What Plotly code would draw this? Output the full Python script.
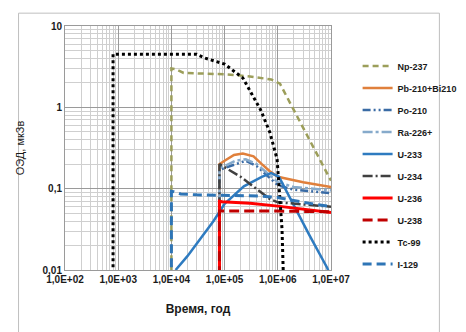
import plotly.graph_objects as go

# ---- data ----
np237_x = [1e4, 1e4, 1.2e4, 1.7e4, 1e5, 3e5, 7.5e5, 1.1e6, 1e7]
np237_y = [0.001, 3.0, 2.95, 2.65, 2.55, 2.4, 2.2, 1.95, 0.125]

pb210_x = [8e4, 8e4, 1e5, 1.5e5, 2.2e5, 3.5e5, 5e5, 7e5, 1e6, 3e6, 1e7]
pb210_y = [0.001, 0.2, 0.22, 0.26, 0.27, 0.25, 0.2, 0.165, 0.14, 0.12, 0.105]

po210_x = [8e4, 8e4, 1e5, 1.6e5, 2.5e5, 4e5, 6e5, 1e6, 2e6, 5e6, 1e7]
po210_y = [0.001, 0.17, 0.18, 0.2, 0.22, 0.19, 0.15, 0.11, 0.097, 0.092, 0.088]

ra226_x = [8e4, 8e4, 1e5, 1.6e5, 2.5e5, 4e5, 6e5, 1e6, 2e6, 5e6, 1e7]
ra226_y = [0.001, 0.18, 0.19, 0.22, 0.23, 0.2, 0.16, 0.12, 0.105, 0.1, 0.095]

u233_x = [1.2e4, 2e4, 3.8e4, 6.2e4, 1e5, 2.3e5, 5e5, 7.5e5, 1.05e6, 2e6, 3.9e6, 8.5e6, 1e7]
u233_y = [0.01, 0.0148, 0.026, 0.04, 0.065, 0.107, 0.14, 0.155, 0.14, 0.061, 0.027, 0.0106, 0.008]

u234_x = [8e4, 8e4, 2e5, 4e5, 7e5, 1e6, 3e6, 1e7]
u234_y = [0.001, 0.2, 0.14, 0.1, 0.075, 0.068, 0.064, 0.06]

u236_x = [8e4, 8e4, 9e4, 3e5, 1e6, 3e6, 1e7]
u236_y = [0.001, 0.07, 0.069, 0.066, 0.061, 0.056, 0.051]

u238_x = [8e4, 8e4, 1e6, 1e7]
u238_y = [0.001, 0.053, 0.053, 0.052]

tc99_x = [800, 800, 3e4, 4.2e4, 1e5, 2.2e5, 3.2e5, 4.8e5, 7.1e5, 9.7e5, 1.2e6, 1.3e6, 1.4e6]
tc99_y = [0.001, 4.5, 4.5, 4.05, 3.4, 2.3, 1.48, 0.92, 0.49, 0.23, 0.032, 0.01, 0.001]

i129_x = [1e4, 1e4, 1.1e4, 1.5e4, 3e4, 1e5, 5e5, 1e6, 3e6, 1e7]
i129_y = [0.001, 0.093, 0.092, 0.086, 0.084, 0.082, 0.081, 0.078, 0.068, 0.06]

x_tickvals = [1e2, 1e3, 1e4, 1e5, 1e6, 1e7]
x_ticktext = ["1,0E+02", "1,0E+03", "1,0E+04", "1,0E+05", "1,0E+06", "1,0E+07"]
y_tickvals = [0.01, 0.1, 1, 10]
y_ticktext = ["0,01", "0,1", "1", "10"]

# minor gridlines at 2..9 of every decade
x_minor = [m * 10 ** e for e in range(2, 7) for m in range(2, 10)]
y_minor = [m * 10 ** e for e in range(-2, 1) for m in range(2, 10)]

series = [
    ("Np-237", np237_x, np237_y, "#9C9E5A", "6px,4px", 2.5),
    ("Pb-210+Bi210", pb210_x, pb210_y, "#E0803C", "solid", 2.5),
    ("Po-210", po210_x, po210_y, "#3A6BA5", "8px,3px,2px,3px,2px,3px", 2.5),
    ("Ra-226+", ra226_x, ra226_y, "#86AACB", "10px,3px,3px,3px", 2.5),
    ("U-233", u233_x, u233_y, "#2E7BC0", "solid", 2.5),
    ("U-234", u234_x, u234_y, "#404040", "10px,3px,2px,3px", 2.5),
    ("U-236", u236_x, u236_y, "#FF0000", "solid", 3),
    ("U-238", u238_x, u238_y, "#C00000", "10px,5px", 3),
    ("Tc-99", tc99_x, tc99_y, "#000000", "3px,3px", 3),
    ("I-129", i129_x, i129_y, "#2E75B6", "9px,5px", 3),
]

fig = go.Figure()
for i, (name, xs, ys, col, dash, w) in enumerate(series):
    fig.add_trace(go.Scatter(
        x=xs, y=ys, mode="lines", name=name, legendgroup=f"g{i}",
        line=dict(color=col, dash=dash, width=w),
    ))

font_family = "Liberation Sans"
fig.update_layout(
    width=466, height=332,
    margin=dict(l=52, r=122, t=15, b=70),
    paper_bgcolor="white", plot_bgcolor="white",
    font=dict(family=font_family, size=10, color="#1a1a1a"),
    showlegend=True,
    legend=dict(
        x=1.1, y=0.895, xanchor="left", yanchor="top",
        font=dict(family=font_family, size=9, color="#1a1a1a", weight="bold"),
        tracegroupgap=3, itemwidth=30, bgcolor="rgba(0,0,0,0)",
    ),
    xaxis=dict(
        type="log", range=[2, 7],
        tickvals=x_tickvals, ticktext=x_ticktext,
        tickfont=dict(size=10, weight="bold"),
        showgrid=True, gridcolor="#9a9a9a", gridwidth=1,
        minor=dict(tickmode="array", tickvals=x_minor, showgrid=True,
                   gridcolor="#cfcfcf", gridwidth=1, ticks=""),
        showline=True, linecolor="#9a9a9a", mirror=True,
        ticks="", ticklen=0,
        title=dict(text="Время, год", font=dict(size=12, weight="bold"), standoff=20),
        zeroline=False,
    ),
    yaxis=dict(
        type="log", range=[-2, 1],
        tickvals=y_tickvals, ticktext=y_ticktext,
        tickfont=dict(size=10, weight="bold"),
        showgrid=True, gridcolor="#9a9a9a", gridwidth=1,
        minor=dict(tickmode="array", tickvals=y_minor, showgrid=True,
                   gridcolor="#cfcfcf", gridwidth=1, ticks=""),
        showline=True, linecolor="#9a9a9a", mirror=True,
        ticks="", ticklen=0,
        title=dict(text="ОЭД, мкЗв", font=dict(size=11), standoff=15),
        zeroline=False,
    ),
    shapes=[dict(
        type="rect", xref="paper", yref="paper",
        x0=(1 - 52) / 292, x1=(463 - 52) / 292,
        y0=(262 - 329) / 247, y1=(262 - 2) / 247,
        line=dict(color="#bfbfbf", width=1), fillcolor="rgba(0,0,0,0)", layer="below",
    )],
)

fig.write_html("out.html")
